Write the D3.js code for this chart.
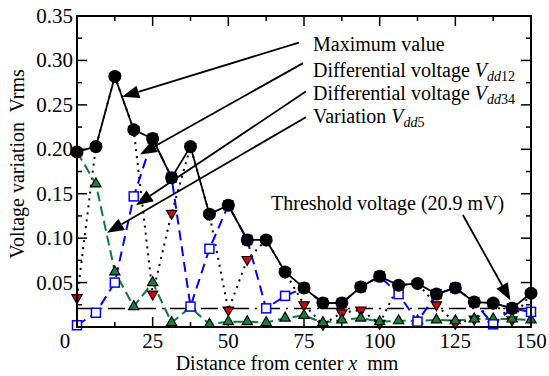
<!DOCTYPE html>
<html>
<head>
<meta charset="utf-8">
<script src="https://cdn.jsdelivr.net/npm/d3@7"></script>
<style>
  body { margin: 0; background: #fff; }
  svg { display: block; font-family: "Liberation Serif", "DejaVu Serif", serif; }
</style>
</head>
<body>
<svg id="graph" width="549" height="376"></svg>
<script>
/*******************************************************************************************/
// Data

var distance = [0, 6.25, 12.5, 18.75, 25, 31.25, 37.5, 43.75, 50, 56.25, 62.5, 68.75, 75,
                81.25, 87.5, 93.75, 100, 106.25, 112.5, 118.75, 125, 131.25, 137.5, 143.75, 150];

var maxValue = [0.197, 0.203, 0.282, 0.222, 0.212, 0.168, 0.203, 0.127, 0.137, 0.098, 0.098, 0.062, 0.044,
                0.027, 0.027, 0.045, 0.057, 0.047, 0.049, 0.037, 0.044, 0.028, 0.027, 0.021, 0.038];

var vdd12 = [0.002, 0.016, 0.050, 0.147, 0.212, 0.168, 0.023, 0.088, 0.137, 0.098, 0.021, 0.035, 0.044,
             0.027, 0.027, 0.045, 0.057, 0.037, 0.006, 0.037, 0.044, 0.028, 0.003, 0.021, 0.017];

var vdd34 = [0.033, 0.203, 0.282, 0.222, 0.037, 0.128, 0.203, 0.127, 0.019, 0.076, 0.098, 0.062, 0.025,
             0.003, 0.016, 0.019, 0.004, 0.047, 0.049, 0.025, 0.004, 0.009, 0.027, 0.008, 0.038];

var vdd5 = [0.197, 0.161, 0.062, 0.023, 0.050, 0.005, 0.022, 0.003, 0.006, 0.006, 0.005, 0.010, 0.013,
            0.005, 0.008, 0.010, 0.006, 0.007, 0.007, 0.008, 0.007, 0.009, 0.009, 0.009, 0.008];

var threshold = 0.0209;

var xTicks = [25, 50, 75, 100, 125, 150];
var yTicks = [0.05, 0.10, 0.15, 0.20, 0.25, 0.30, 0.35];

// annotation arrows, in data units: [from x, from y, to x, to y]
var arrows = [
  [73.3, 0.320, 14.9, 0.259],
  [74.7, 0.297, 20.8, 0.194],
  [75.6, 0.265, 19.5, 0.137],
  [75.6, 0.236, 9.9, 0.106],
  [127.5, 0.126, 143.2, 0.030]
];

/*******************************************************************************************/
// Scales

var pL = 77, pR = 531, pT = 16, pB = 327;
var xScale = d3.scaleLinear().domain([0, 150]).range([pL, pR]);
var yScale = d3.scaleLinear().domain([0, 0.35]).range([pB, pT]);

var svg = d3.select('#graph');

function pts(vals){
  return vals.map(function(v, i){ return { x: distance[i], y: v }; });
}

var lineGen = d3.line().x(function(d){ return xScale(d.x) }).y(function(d){ return yScale(d.y) });

/*******************************************************************************************/
// Axes (inward ticks on all four sides)

function tickLines(g, vals, len, orient){
  vals.forEach(function(v){
    if(orient == 'bottom') g.append('line').attr('x1', xScale(v)).attr('x2', xScale(v)).attr('y1', pB).attr('y2', pB - len);
    if(orient == 'top') g.append('line').attr('x1', xScale(v)).attr('x2', xScale(v)).attr('y1', pT).attr('y2', pT + len);
    if(orient == 'left') g.append('line').attr('y1', yScale(v)).attr('y2', yScale(v)).attr('x1', pL).attr('x2', pL + len);
    if(orient == 'right') g.append('line').attr('y1', yScale(v)).attr('y2', yScale(v)).attr('x1', pR).attr('x2', pR - len);
  });
}

var xMajor = d3.range(0, 151, 25), xMinor = d3.range(12.5, 150, 25);
var yMajor = d3.range(0, 0.351, 0.05), yMinor = d3.range(0.025, 0.35, 0.05);

var axes = svg.append('g').attr('stroke', '#000').attr('stroke-width', 1.5);
['bottom', 'top'].forEach(function(o){ tickLines(axes, xMajor, 10, o); tickLines(axes, xMinor, 5, o); });
['left', 'right'].forEach(function(o){ tickLines(axes, yMajor, 10, o); tickLines(axes, yMinor, 5, o); });

svg.append('text').attr('x', xScale(0) - 12).attr('y', pB + 21).attr('text-anchor', 'middle')
   .attr('font-size', 21).text('0');

svg.selectAll('.xlab').data(xTicks).enter().append('text').attr('class', 'xlab')
   .attr('x', function(d){ return xScale(d) }).attr('y', pB + 21)
   .attr('text-anchor', 'middle').attr('font-size', 21).text(function(d){ return d });

svg.selectAll('.ylab').data(yTicks).enter().append('text').attr('class', 'ylab')
   .attr('x', pL - 4).attr('y', function(d){ return yScale(d) + 7 })
   .attr('text-anchor', 'end').attr('font-size', 21).text(function(d){ return d3.format('.2f')(d) });

var xt = svg.append('text').attr('x', 287).attr('y', 370).attr('text-anchor', 'middle').attr('font-size', 20);
xt.append('tspan').text('Distance from center ');
xt.append('tspan').attr('font-style', 'italic').text('x');
xt.append('tspan').attr('xml:space', 'preserve').text('  mm');

svg.append('text').attr('transform', 'translate(24,' + 164 + ') rotate(-90)')
   .attr('text-anchor', 'middle').attr('font-size', 20).attr('xml:space', 'preserve')
   .text('Voltage variation  Vrms');

/*******************************************************************************************/
// Series

// threshold line
svg.append('line').attr('x1', pL).attr('x2', pR)
   .attr('y1', yScale(threshold)).attr('y2', yScale(threshold))
   .attr('stroke', '#000').attr('stroke-width', 1.5).attr('stroke-dasharray', '17,6,2,6');

// Vdd34 : black dotted with red down-triangles
svg.append('path').datum(pts(vdd34)).attr('d', lineGen)
   .attr('fill', 'none').attr('stroke', '#000').attr('stroke-width', 2).attr('stroke-dasharray', '2,5');

// Vdd5 : green dashed with green triangles
svg.append('path').datum(pts(vdd5)).attr('d', lineGen)
   .attr('fill', 'none').attr('stroke', '#0a7a3c').attr('stroke-width', 2).attr('stroke-dasharray', '10,5');

// Vdd12 : blue dashed with open squares
svg.append('path').datum(pts(vdd12)).attr('d', lineGen)
   .attr('fill', 'none').attr('stroke', '#0000ff').attr('stroke-width', 2).attr('stroke-dasharray', '10,6');

var tri = d3.symbol().type(d3.symbolTriangle).size(46);

svg.selectAll('.red').data(pts(vdd34)).enter().append('path').attr('class', 'red')
   .attr('d', tri)
   .attr('transform', function(d){ return 'translate(' + xScale(d.x) + ',' + yScale(d.y) + ') rotate(180)' })
   .attr('fill', '#e00000').attr('stroke', '#000').attr('stroke-width', 1.2);

svg.selectAll('.green').data(pts(vdd5)).enter().append('path').attr('class', 'green')
   .attr('d', tri)
   .attr('transform', function(d){ return 'translate(' + xScale(d.x) + ',' + yScale(d.y) + ')' })
   .attr('fill', '#15803d').attr('stroke', '#000').attr('stroke-width', 1.2);

svg.selectAll('.blue').data(pts(vdd12)).enter().append('rect').attr('class', 'blue')
   .attr('x', function(d){ return xScale(d.x) - 4.5 }).attr('y', function(d){ return yScale(d.y) - 4.5 })
   .attr('width', 9).attr('height', 9)
   .attr('fill', '#fff').attr('stroke', '#0000ff').attr('stroke-width', 1.5);

// Maximum value : solid black with filled circles
svg.append('path').datum(pts(maxValue)).attr('d', lineGen)
   .attr('fill', 'none').attr('stroke', '#000').attr('stroke-width', 1.8);

svg.selectAll('.max').data(pts(maxValue)).enter().append('circle').attr('class', 'max')
   .attr('cx', function(d){ return xScale(d.x) }).attr('cy', function(d){ return yScale(d.y) })
   .attr('r', 6.5).attr('fill', '#000');

// frame
svg.append('rect').attr('x', pL).attr('y', pT).attr('width', pR - pL).attr('height', pB - pT)
   .attr('fill', 'none').attr('stroke', '#000').attr('stroke-width', 2);

/*******************************************************************************************/
// Annotations

arrows.forEach(function(a){
  var x1 = xScale(a[0]), y1 = yScale(a[1]), x2 = xScale(a[2]), y2 = yScale(a[3]);
  var ang = Math.atan2(y2 - y1, x2 - x1), L = 17, W = 6.5;
  var bx = x2 - L * Math.cos(ang), by = y2 - L * Math.sin(ang);
  svg.append('line').attr('x1', x1).attr('y1', y1).attr('x2', bx).attr('y2', by)
     .attr('stroke', '#000').attr('stroke-width', 1.8);
  svg.append('path')
     .attr('d', 'M' + x2 + ',' + y2 +
                'L' + (bx + W * Math.sin(ang)) + ',' + (by - W * Math.cos(ang)) +
                'L' + (bx - W * Math.sin(ang)) + ',' + (by + W * Math.cos(ang)) + 'Z')
     .attr('fill', '#000');
});

var labels = [
  { y: 51, main: 'Maximum value', sub: null },
  { y: 77, main: 'Differential voltage ', sub: ['dd', '12'] },
  { y: 100, main: 'Differential voltage ', sub: ['dd', '34'] },
  { y: 123, main: 'Variation ', sub: ['dd', '5'] }
];

labels.forEach(function(l){
  var t = svg.append('text').attr('x', 313).attr('y', l.y).attr('font-size', 20).attr('xml:space', 'preserve');
  t.append('tspan').text(l.main);
  if(l.sub){
    t.append('tspan').attr('font-style', 'italic').text('V');
    t.append('tspan').attr('font-style', 'italic').attr('font-size', 14).attr('dy', 4).text(l.sub[0]);
    t.append('tspan').attr('font-size', 14).text(l.sub[1]);
  }
});

svg.append('text').attr('x', 271).attr('y', 210).attr('font-size', 20).text('Threshold voltage (20.9 mV)');
</script>
</body>
</html>
